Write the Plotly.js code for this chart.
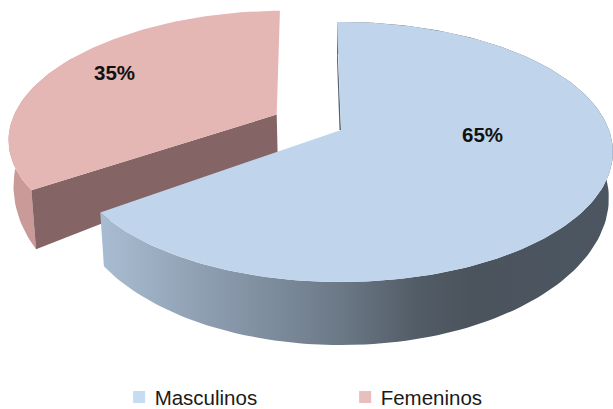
<!DOCTYPE html>
<html><head><meta charset="utf-8">
<script src="https://cdn.plot.ly/plotly-3.0.1.min.js"></script>
<style>html,body{margin:0;padding:0;background:#fff;overflow:hidden}</style>
</head><body><div id="chart" style="width:613px;height:409px"></div>
<script>
const categories = ["Masculinos", "Femeninos"];
const shares = [65, 35];
const topColors = ["#c0d5ec", "#e4b6b4"];
const legendColors = ["#c6dcf1", "#e9bfbe"];

// Perspective view of the pie, in page pixels.
const X0 = 341, Y0 = 130, A = 268, B = 126.3, K = 0.169, SHRINK = 0.985, EXPLODE = 0.275;
const BLUE_DEPTH = {h: 43.6, p: 2}, RED_DEPTH = {h: 43.6, p: 3.9};
function project(u, v, depth) {
  const w = 1 + K * v;
  let x = A * u / w, y = -B * v / w;
  if (depth) { x *= SHRINK; y += depth.h / Math.pow(w, depth.p); }
  return [X0 + x, Y0 + y];
}
function rim(a0, a1, ou, ov, depth) {
  const pts = [];
  const n = Math.max(2, Math.ceil((a1 - a0) / 1.5));
  for (let i = 0; i <= n; i++) {
    const t = (a0 + (a1 - a0) * i / n) * Math.PI / 180;
    pts.push(project(ou + Math.sin(t), ov + Math.cos(t), depth));
  }
  return pts;
}
function poly(pts, color, extra) {
  return Object.assign({
    type: "scatter", mode: "lines", x: pts.map(p => p[0]), y: pts.map(p => p[1]),
    fill: "toself", fillcolor: color, line: {width: 0, color: color},
    hoverinfo: "skip", showlegend: false
  }, extra || {});
}
const total = shares[0] + shares[1];
const end0 = 360 * shares[0] / total;
const mid1 = ((end0 + 360) / 2) * Math.PI / 180;
const ou = EXPLODE * Math.sin(mid1), ov = EXPLODE * Math.cos(mid1);

// Femeninos (exploded, behind)
const redFrom = end0 + 1.5, redTo = 360 - 1.5;
const rTop = rim(redFrom, redTo, ou, ov, null);
const wTop = rim(redFrom, 300, ou, ov, null), wBot = rim(redFrom, 300, ou, ov, RED_DEPTH);
const apexR = project(ou, ov, null), apexRb = project(ou, ov, RED_DEPTH);
const redWall = poly(wTop.concat(wBot.slice().reverse()), "#c99a98");
const redCut = poly([wTop[0], apexR, apexRb, wBot[0]], "#846464");
const redTop = poly([apexR].concat(rTop), topColors[1]);

// Masculinos (front)
const bTop = rim(-1, end0, 0, 0, null), bBot = rim(-1, end0, 0, 0, BLUE_DEPTH);
const apexB = project(0, 0, null);
const blueWall = poly(bTop.concat(bBot.slice().reverse()), "#8090a0", {
  fillgradient: {type: "horizontal", start: 100, stop: 613,
    colorscale: [[0, "#a9bdd2"], [0.2, "#8f9fb2"], [0.35, "#7b8a9a"], [0.47, "#6b7886"], [0.62, "#525c66"], [0.72, "#4b545d"], [1, "#4c5661"]]}
});
const blueTop = poly([apexB].concat(bTop), topColors[0]);
const sliver = poly([[bTop[0][0], bTop[0][1] + 15], apexB, [apexB[0] - 1.5, apexB[1]], [apexB[0] - 4, apexB[1] - 70]], "#55626f");

const legendA = {type: "scatter", mode: "markers", x: [null], y: [null], name: categories[0],
  marker: {symbol: "square", size: 12, color: legendColors[0]}, hoverinfo: "skip"};
const legendB = {type: "scatter", mode: "markers", x: [null], y: [null], name: categories[1],
  marker: {symbol: "square", size: 12, color: legendColors[1]}, hoverinfo: "skip"};

const font = "Liberation Sans, Arial, sans-serif";
const layout = {
  width: 613, height: 409, margin: {l: 0, r: 0, t: 0, b: 0, autoexpand: false},
  paper_bgcolor: "#fff", plot_bgcolor: "#fff",
  xaxis: {range: [0, 613], visible: false, fixedrange: true},
  yaxis: {range: [409, 0], visible: false, fixedrange: true},
  legend: {orientation: "h", x: 0.187, y: -0.02, xanchor: "left", yanchor: "bottom",
    entrywidth: 181, entrywidthmode: "pixels", itemwidth: 30,
    font: {family: font, size: 20.5, color: "#1a1a1a"}, bgcolor: "rgba(0,0,0,0)"},
  annotations: [
    {x: 482, y: 134, text: "<b>" + shares[0] + "%</b>", showarrow: false, font: {family: font, size: 20.5, color: "#111"}},
    {x: 114, y: 72, text: "<b>" + shares[1] + "%</b>", showarrow: false, font: {family: font, size: 20.5, color: "#111"}}
  ],
  showlegend: true
};
Plotly.newPlot("chart", [redWall, redCut, redTop, blueWall, sliver, blueTop, legendA, legendB], layout, {displayModeBar: false, staticPlot: true}).then(function () {
  document.querySelectorAll(".legendsymbols").forEach(function (g) { g.setAttribute("transform", "translate(4.5,0)"); });
});
</script></body></html>
